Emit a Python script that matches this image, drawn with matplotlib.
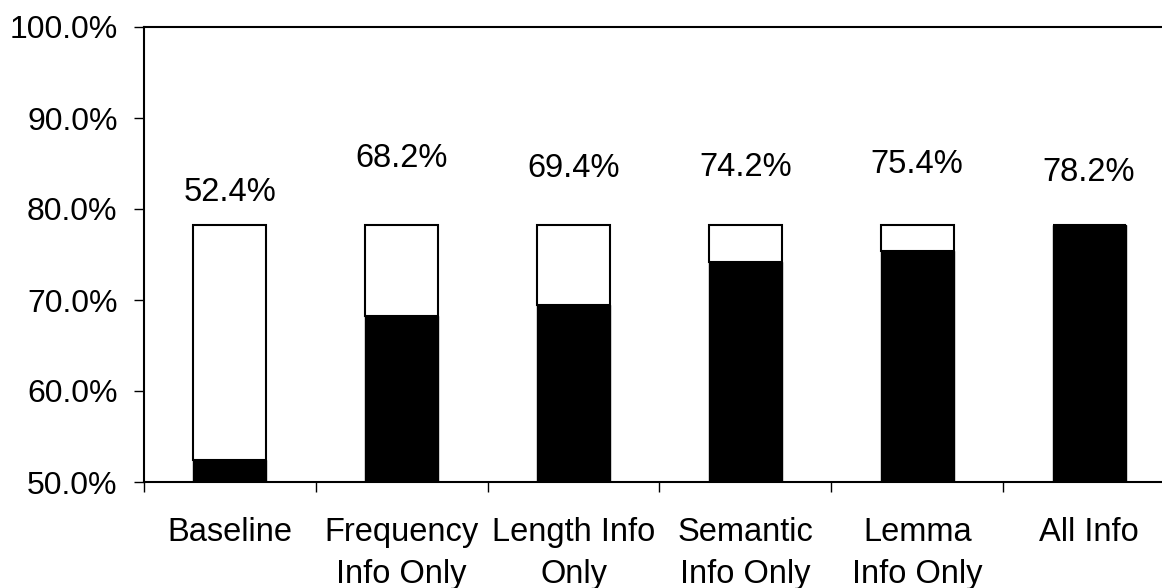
import matplotlib

matplotlib.use("Agg")
import matplotlib.pyplot as plt
from matplotlib.ticker import FuncFormatter, FixedLocator

plt.rcParams["font.family"] = ["Liberation Sans", "DejaVu Sans"]

categories = ["Baseline", "Frequency\nInfo Only", "Length Info\nOnly",
              "Semantic\nInfo Only", "Lemma\nInfo Only", "All Info"]
accuracy = [52.4, 68.2, 69.4, 74.2, 75.4, 78.2]
# height where each value label sits
label_y = [81.8, 85.6, 84.4, 84.6, 84.9, 84.0]

ceiling = max(accuracy)
floor = 50.0
FS = 23.5

fig = plt.figure(figsize=(11.62, 5.88), dpi=100)
ax = fig.add_axes([144 / 1162, 106 / 588, 1031 / 1162, 455 / 588])

xs = list(range(len(categories)))
width = 0.425
ax.bar(xs, [a - floor for a in accuracy], bottom=floor, width=width,
       color="black", edgecolor="black", linewidth=1.0, zorder=2)
ax.bar(xs, [ceiling - a for a in accuracy], bottom=accuracy, width=width,
       color="white", edgecolor="black", linewidth=1.5, zorder=2)

for x, a, y in zip(xs, accuracy, label_y):
    ax.text(x, y, f"{a:.1f}%", ha="center", va="center", fontsize=FS)

ax.set_xlim(-0.5, len(categories) - 0.5)
ax.set_ylim(floor, 100)
ax.set_yticks([50, 60, 70, 80, 90, 100])
ax.yaxis.set_major_formatter(FuncFormatter(lambda v, _: f"{v:.1f}%"))

ax.set_xticks(xs)
ax.set_xticklabels(categories, linespacing=1.45)
ax.xaxis.set_minor_locator(FixedLocator([i - 0.5 for i in range(len(categories) + 1)]))
ax.tick_params(axis="x", which="major", length=0, pad=25, labelsize=FS)
ax.tick_params(axis="x", which="minor", length=7, width=1.0, direction="out")
ax.tick_params(axis="y", which="major", length=7, width=1.0, direction="out",
               pad=12, labelsize=23)

for side in ax.spines.values():
    side.set_linewidth(1.5)

fig.savefig("out.png", dpi=100)
